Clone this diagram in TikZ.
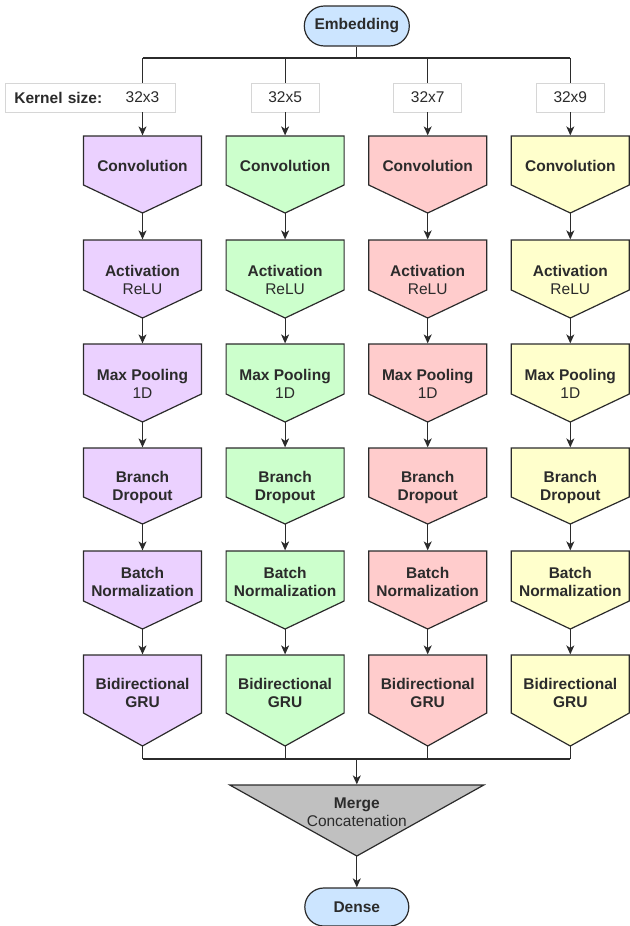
\documentclass[tikz,border=0pt]{standalone}
\usepackage{fontspec}
\setmainfont{Liberation Sans}
\usetikzlibrary{arrows.meta}
\usetikzlibrary{shapes.misc}

\definecolor{purplefill}{HTML}{EBD1FF}
\definecolor{greenfill}{HTML}{CCFFCC}
\definecolor{redfill}{HTML}{FFCCCC}
\definecolor{yellowfill}{HTML}{FFFFCC}
\definecolor{bluefill}{HTML}{CCE5FF}
\definecolor{mergefill}{HTML}{C0C0C0}
\definecolor{linegray}{HTML}{2B2B2B}
\definecolor{framegray}{HTML}{D6D6D6}

\tikzset{
  txt/.style={font=\fontsize{15.5}{18}\selectfont},
  layer/.style={txt, minimum width=118pt, inner sep=0pt, align=center},
  terminal/.style={txt, draw, rounded rectangle, inner sep=0pt, minimum height=40pt},
  kernbox/.style={txt, draw=framegray, line width=0.8pt, fill=white, minimum width=68pt, minimum height=29pt, inner sep=0pt}
}

\begin{document}
\begin{tikzpicture}[x=1pt,y=-1pt,>/.tip={Stealth[length=9pt,width=8pt,inset=2.5pt]},
  color=linegray, line width=1.2pt]
	\useasboundingbox (0,0) rectangle (629,926);

	\draw (356.8,26) node (emb) [terminal,fill=bluefill,minimum width=105pt] {\textbf{Embedding}};
	\coordinate (split) at (356.8,58);

	% label frame of the first column
	\draw (5,97.5) node (ksize) [kernbox,anchor=west,minimum width=170pt,text width=152pt,inner xsep=9pt,align=left] {\textbf{Kernel size:}};

	\foreach \col/\fc/\ksz in {1/purplefill/3, 2/greenfill/5, 3/redfill/7, 4/yellowfill/9} {
		\pgfmathsetmacro\xc{142.5+142.6*(\col-1)}
		\coordinate (top-\col) at (\xc,58);
		\coordinate (bot-\col) at (\xc,759);
		\ifnum\col=1
			\draw (\xc,97.5) node (ker-\col) [kernbox,draw=none,fill=none] {32x\ksz};
		\else
			\draw (\xc,97.5) node (ker-\col) [kernbox] {32x\ksz};
		\fi
		\foreach \row/\ytop/\ytip/\yshoulder/\yoff/\txt in {
			1/136/77/49/30/{\textbf{Convolution}},
			2/240/78/50/39.5/{\textbf{Activation}\\ReLU},
			3/344/78/50/39.5/{\textbf{Max Pooling}\\1D},
			4/448/76/49/39/{\textbf{Branch}\\\textbf{Dropout}},
			5/551/78/50/31/{\textbf{Batch}\\\textbf{Normalization}},
			6/655/91/58/38/{\textbf{Bidirectional}\\\textbf{GRU}}} {
			\filldraw[fill=\fc] (\xc-59,\ytop) -- (\xc+59,\ytop) -- (\xc+59,\ytop+\yshoulder)
				-- (\xc,\ytop+\ytip) -- (\xc-59,\ytop+\yshoulder) -- cycle;
			\draw (\xc,\ytop+\yoff) node (lay-\col-\row) [layer,minimum height=2*\yoff] {\txt};
			\coordinate (tip-\col-\row) at (\xc,\ytop+\ytip);
		}
		\draw (top-\col) -- (ker-\col);
		\draw[->] (ker-\col) -- (lay-\col-1);
		\foreach \row [evaluate=\row as \nxt using int(\row+1)] in {1,...,5}
			\draw[->] (tip-\col-\row) -- (lay-\col-\nxt);
		\draw (tip-\col-6) -- (bot-\col);
	}
	\draw (emb) -- (split);
	\draw (top-1) -- (top-4);
	\draw (bot-1) -- (bot-4);

	% merge of the four branches
	\filldraw[fill=mergefill] (229.8,785) -- (483.8,785) -- (356.8,856) -- cycle;
	\draw (356.8,812.5) node (merge) [layer,minimum height=55pt] {\textbf{Merge}\\Concatenation};
	\coordinate (join) at (356.8,759);
	\coordinate (merge-tip) at (356.8,856);
	\draw[->] (join) -- (merge);

	\draw (356.8,907) node (dense) [terminal,fill=bluefill,minimum width=104pt,minimum height=38pt] {\textbf{Dense}};
	\draw[->] (merge-tip) -- (dense);
\end{tikzpicture}
\end{document}
